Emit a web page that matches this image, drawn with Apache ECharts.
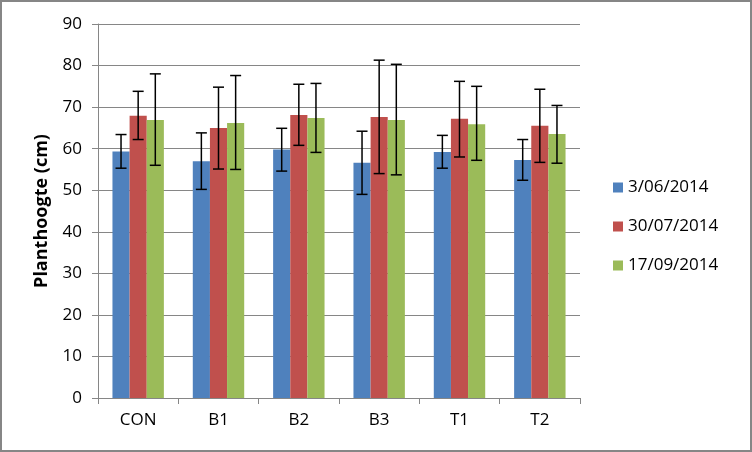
<!DOCTYPE html>
<html>
<head>
<meta charset="utf-8">
<script src="https://cdn.jsdelivr.net/npm/echarts@6/dist/echarts.min.js"></script>
<style>
html,body{margin:0;padding:0;background:#fff;}
#chart{width:752px;height:452px;box-sizing:border-box;border:2px solid #868686;}
</style>
</head>
<body>
<div id="chart"></div>
<script>
var categories = ['CON', 'B1', 'B2', 'B3', 'T1', 'T2'];
var seriesNames = ['3/06/2014', '30/07/2014', '17/09/2014'];
var values1 = [59.3, 57.0, 59.8, 56.6, 59.2, 57.3];
var values2 = [67.9, 65.0, 68.1, 67.6, 67.2, 65.5];
var values3 = [66.9, 66.2, 67.4, 66.9, 65.9, 63.5];
var errHigh1 = [63.4, 63.8, 64.9, 64.2, 63.2, 62.2];
var errLow1  = [55.3, 50.2, 54.6, 49.0, 55.3, 52.4];
var errHigh2 = [73.8, 74.8, 75.5, 81.3, 76.2, 74.3];
var errLow2  = [62.2, 55.1, 60.8, 54.0, 58.0, 56.7];
var errHigh3 = [78.0, 77.6, 75.7, 80.3, 75.0, 70.4];
var errLow3  = [56.0, 55.0, 59.1, 53.7, 57.2, 56.5];
var colors = ['#4F81BD', '#C0504D', '#9BBB59'];

var chart = echarts.init(document.getElementById('chart'));
var FONT = 'Open Sans';
var values = [values1, values2, values3];
var highs = [errHigh1, errHigh2, errHigh3];
var lows = [errLow1, errLow2, errLow3];
var GAP = 0.36;

var series = [];
for (var s = 0; s < 3; s++) {
  series.push({
    name: seriesNames[s],
    type: 'bar',
    data: values[s],
    barGap: '0%',
    barCategoryGap: (GAP * 100) + '%',
    itemStyle: { color: colors[s] },
    z: 2
  });
}
for (var s2 = 0; s2 < 3; s2++) {
  (function (k) {
    var data = categories.map(function (c, i) { return [i, lows[k][i], highs[k][i]]; });
    series.push({
      type: 'custom',
      name: 'err' + k,
      z: 5,
      silent: true,
      data: data,
      encode: { x: 0, y: [1, 2] },
      renderItem: function (params, api) {
        var idx = api.value(0);
        var lo = api.coord([idx, api.value(1)]);
        var hi = api.coord([idx, api.value(2)]);
        var band = api.size([1, 0])[0];
        var bw = band * (1 - GAP) / 3;
        var x = lo[0] + (k - 1) * bw;
        var cap = 5.5;
        var style = { stroke: '#000', lineWidth: 1.5 };
        return {
          type: 'group',
          children: [
            { type: 'line', shape: { x1: x, y1: hi[1], x2: x, y2: lo[1] }, style: style },
            { type: 'line', shape: { x1: x - cap, y1: hi[1], x2: x + cap, y2: hi[1] }, style: style },
            { type: 'line', shape: { x1: x - cap, y1: lo[1], x2: x + cap, y2: lo[1] }, style: style }
          ]
        };
      }
    });
  })(s2);
}

chart.setOption({
  animation: false,
  textStyle: { fontFamily: FONT },
  grid: { left: 96, top: 22, width: 482, height: 374, containLabel: false },
  legend: {
    data: seriesNames.map(function (n) { return { name: n, icon: 'rect' }; }),
    orient: 'vertical',
    left: 606,
    top: 172,
    itemWidth: 10,
    itemHeight: 10,
    itemGap: 22,
    textStyle: { fontFamily: FONT, fontSize: 17, color: '#000' },
    selectedMode: false
  },
  xAxis: {
    type: 'category',
    data: categories,
    axisLine: { lineStyle: { color: '#868686', width: 1 } },
    axisTick: { show: true, length: 6, lineStyle: { color: '#868686' } },
    axisLabel: { fontFamily: FONT, fontSize: 17, color: '#000', margin: 14 }
  },
  yAxis: {
    type: 'value',
    min: 0,
    max: 90,
    interval: 10,
    name: 'Planthoogte (cm)',
    nameLocation: 'middle',
    nameGap: 47,
    nameTextStyle: { fontFamily: FONT, fontSize: 18, fontWeight: 'bold', color: '#000' },
    axisLine: { show: true, lineStyle: { color: '#868686', width: 1 } },
    axisTick: { show: true, length: 6, lineStyle: { color: '#868686' } },
    axisLabel: { fontFamily: FONT, fontSize: 17, color: '#000', margin: 16 },
    splitLine: { lineStyle: { color: '#868686', width: 1 } }
  },
  series: series
});
</script>
</body>
</html>
